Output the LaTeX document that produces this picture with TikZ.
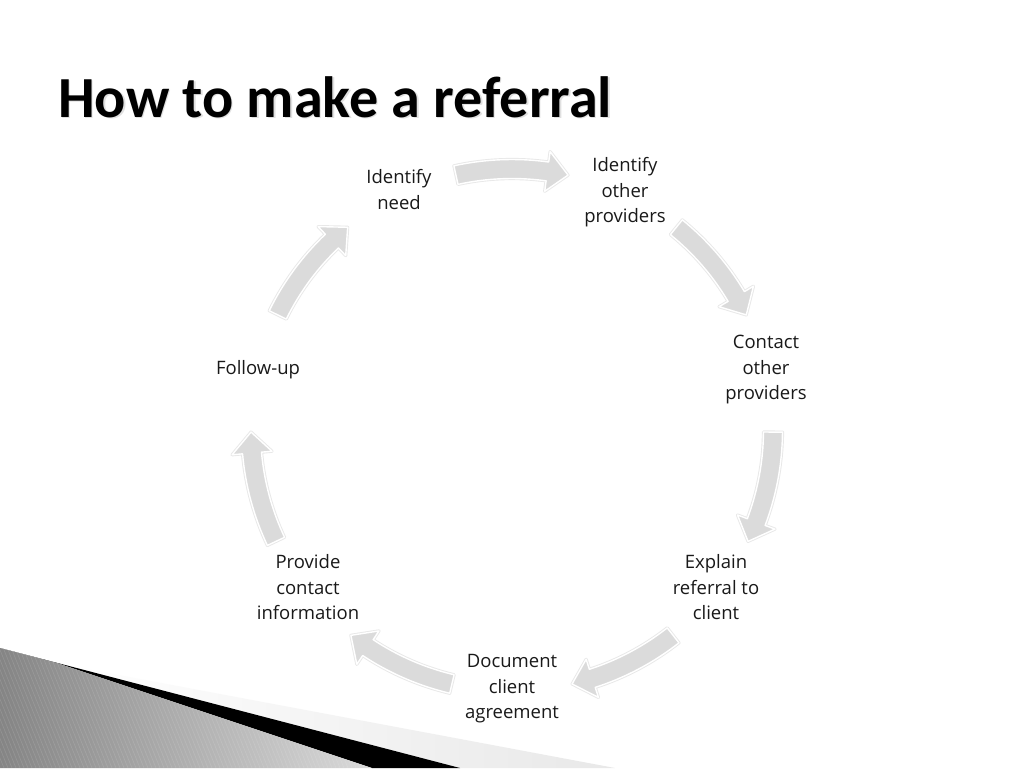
\documentclass[tikz,border=0pt]{standalone}
\usepackage{fontspec}
\setmainfont{Open Sans}
\newfontfamily\titlefont{Carlito}
\begin{document}
\begin{tikzpicture}[x=1pt,y=-1pt,
  lbl/.style={align=center,inner sep=0pt,font=\fontsize{18.5}{25.5}\selectfont,text=black!90},
  blockarrow/.style={fill=black!14,draw=white,line width=1.4pt,line join=round},
  blockglow/.style={draw=black!9,line width=3.2pt,line join=round}]
\useasboundingbox (0,0) rectangle (1024,768);
\fill[white] (0,0) rectangle (1024,768);

% bottom-left decoration
\shade[left color=white,right color=black!9] (60,664) -- (615,768) -- (460,768) -- cycle;
\fill[black] (0,648) -- (460,768) -- (372,768) -- (60,664) -- cycle;
\begin{scope}
  \clip (0,648) -- (60,664) -- (372,768) -- (0,768) -- cycle;
  \shade[left color=black!48,right color=black!14] (0,640) rectangle (380,768);
  \foreach \x in {-80,-76,...,380} \draw[white,opacity=0.12,line width=0.6pt] (\x,640) -- (\x+52,768);
\end{scope}

% title
\node[anchor=base west,inner sep=0pt,text=black!30,opacity=0.4] at (59.5,118.5) {\titlefont\bfseries\fontsize{58.2}{60}\selectfont How to make a referral};
\node (title) [anchor=base west,inner sep=0pt] at (58,117) {\titlefont\bfseries\fontsize{58.2}{60}\selectfont How to make a referral};

% cycle arrows
\begin{scope}[shift={(512,430)},yscale=-1]
\foreach \c in {90,38.571,-12.857,-64.286,-115.714,-167.143,141.429} {
  \pgfmathsetmacro\as{\c+12.4}
  \pgfmathsetmacro\ae{\c-12.4}
  \pgfmathsetmacro\ah{\c-12.4+4.6}
  \path[blockglow] (\as:270.5) arc[start angle=\as,end angle=\ah,radius=270.5] -- (\ah:281) -- (\ae:261) -- (\ah:241) -- (\ah:251.5) arc[start angle=\ah,end angle=\as,radius=251.5] -- cycle;
  \path[blockarrow] (\as:270.5) arc[start angle=\as,end angle=\ah,radius=270.5] -- (\ah:281) -- (\ae:261) -- (\ah:241) -- (\ah:251.5) arc[start angle=\ah,end angle=\as,radius=251.5] -- cycle;
}
\end{scope}

% labels
\newcommand\ls{\rule[-5.75pt]{0pt}{25.5pt}}
\node[lbl] (need) at (399,189.5) {\ls Identify\\\ls need};
\node[lbl] (other) at (625,190) {\ls Identify\\\ls other\\\ls providers};
\node[lbl] (contact) at (766,367) {\ls Contact\\\ls other\\\ls providers};
\node[lbl] (explain) at (716,587) {\ls Explain\\\ls referral to\\\ls client};
\node[lbl] (document) at (512,686) {\ls Document\\\ls client\\\ls agreement};
\node[lbl] (provide) at (308,587) {\ls Provide\\\ls contact\\\ls information};
\node[lbl] (follow) at (258,367) {\ls Follow-up};
\end{tikzpicture}
\end{document}
